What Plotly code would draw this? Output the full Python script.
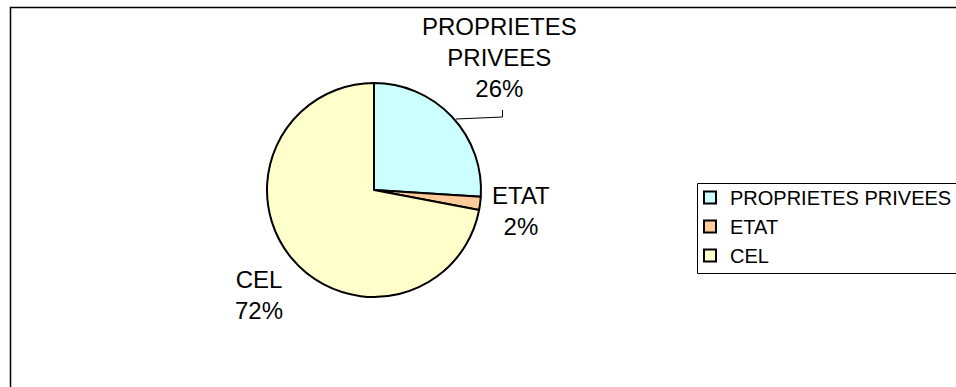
import plotly.graph_objects as go

labels = ["PROPRIETES PRIVEES", "ETAT", "CEL"]
values = [26, 2, 72]
colors = ["#CCFFFF", "#FFCC99", "#FFFFCC"]
label_text = ["PROPRIETES<br>PRIVEES<br>26%", "ETAT<br>2%", "CEL<br>72%"]

W, H = 956, 387
FONT = "Arial, Liberation Sans, sans-serif"

def px(x):
    return x / W

def py(y):
    return 1 - y / H

cx, cy, r = 374, 190, 107

fig = go.Figure(go.Pie(
    labels=labels,
    values=values,
    sort=False,
    direction="clockwise",
    rotation=0,
    textinfo="none",
    hoverinfo="label+percent",
    marker=dict(colors=colors, line=dict(color="black", width=2)),
    domain=dict(x=[px(cx - r), px(cx + r)], y=[py(cy + r), py(cy - r)]),
))

label_pos = [(499, 57), (521, 211), (259, 295)]
for txt, (x, y) in zip(label_text, label_pos):
    fig.add_annotation(x=px(x), y=py(y), xref="paper", yref="paper",
                       text=txt, showarrow=False, xanchor="center", yanchor="middle",
                       font=dict(family=FONT, size=24, color="black"))

# leader line for PROPRIETES PRIVEES label
fig.add_shape(type="path", xref="paper", yref="paper",
              path=f"M {px(456)} {py(119)} L {px(502.5)} {py(117)} L {px(502.5)} {py(110)}",
              line=dict(color="black", width=1))

# chart area border
fig.add_shape(type="rect", xref="paper", yref="paper",
              x0=px(10.5), y0=py(400), x1=px(1000), y1=py(7.5),
              line=dict(color="black", width=1.5))

# legend frame
fig.add_shape(type="rect", xref="paper", yref="paper",
              x0=px(697.5), y0=py(273.5), x1=px(1000), y1=py(183.5),
              line=dict(color="black", width=1), layer="above")

fig.update_layout(
    width=W, height=H,
    margin=dict(l=0, r=0, t=0, b=0, autoexpand=False),
    paper_bgcolor="white",
    plot_bgcolor="white",
    showlegend=True,
    legend=dict(x=px(690), y=py(178), xanchor="left", yanchor="top",
                borderwidth=0, bgcolor="rgba(0,0,0,0)",
                font=dict(family=FONT, size=20, color="black"),
                traceorder="normal"),
)

fig.write_html("out.html")
